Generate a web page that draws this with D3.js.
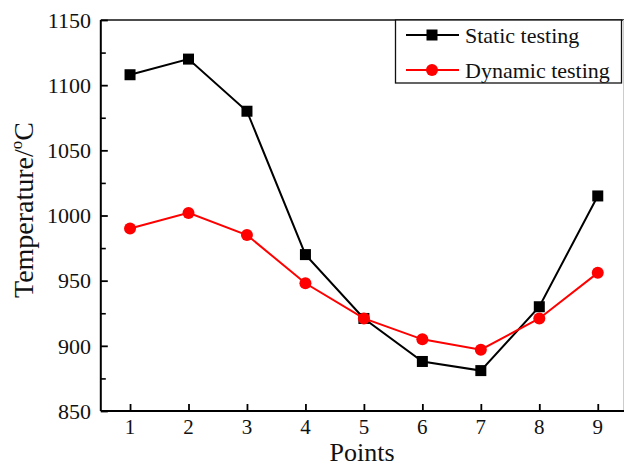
<!DOCTYPE html>
<html>
<head>
<meta charset="utf-8">
<script src="https://cdn.jsdelivr.net/npm/d3@7"></script>
<style>
  body { margin: 0; background: #fff; }
</style>
</head>
<body>
<svg id="chart" width="624" height="467"></svg>
<script>
const points = [1, 2, 3, 4, 5, 6, 7, 8, 9]
const staticTesting = [1108, 1120, 1080, 970, 921, 888, 881, 930, 1015]
const dynamicTesting = [990, 1002, 985, 948, 921, 905, 897, 921, 956]
const yTicks = [850, 900, 950, 1000, 1050, 1100, 1150]
const yMinorTicks = [875, 925, 975, 1025, 1075, 1125]
const seriesNames = ["Static testing", "Dynamic testing"]

const FONT = "'Liberation Serif', 'Times New Roman', serif"

const svg = d3.select("#chart")
  .attr("font-family", FONT)

const x = d3.scaleLinear().domain([0.5, 9.5]).range([100.8, 627])
const y = d3.scaleLinear().domain([850, 1150]).range([411, 20])

// frame
svg.append("line")
  .attr("x1", x(0.5)).attr("x2", 624).attr("y1", y(1150)).attr("y2", y(1150))
  .attr("stroke", "#111").attr("stroke-width", 1.6)
svg.append("line")
  .attr("x1", 623.5).attr("x2", 623.5).attr("y1", y(1150)).attr("y2", y(850))
  .attr("stroke", "#ccc").attr("stroke-width", 1)

// y axis, ticks inward
const yAxis = svg.append("g")
  .attr("transform", `translate(${x(0.5)},0)`)
  .call(d3.axisRight(y).tickValues(yTicks).tickSize(7).tickFormat(""))
yAxis.select(".domain").attr("stroke-width", 2).attr("d", `M0,${y(850)}V${y(1150)}`)
yAxis.selectAll(".tick line").attr("stroke-width", 1.8)

svg.append("g")
  .attr("transform", `translate(${x(0.5)},0)`)
  .call(d3.axisRight(y).tickValues(yMinorTicks).tickSize(5).tickFormat(""))
  .call(g => g.select(".domain").remove())
  .selectAll(".tick line").attr("stroke-width", 1.6)

svg.append("g").selectAll("text")
  .data(yTicks)
  .join("text")
  .attr("font-family", FONT)
  .attr("fill", "#111")
  .attr("x", 91)
  .attr("y", d => y(d))
  .attr("dy", "0.35em")
  .attr("text-anchor", "end")
  .attr("font-size", 22)
  .text(d => d)

// x axis, ticks inward
const xAxis = svg.append("g")
  .attr("transform", `translate(0,${y(850)})`)
  .call(d3.axisTop(x).tickValues(points).tickSize(7).tickFormat(""))
xAxis.select(".domain").attr("stroke-width", 2).attr("d", `M${x(0.5)},0H624`)
xAxis.selectAll(".tick line").attr("stroke-width", 1.8)

svg.append("g").selectAll("text")
  .data(points)
  .join("text")
  .attr("font-family", FONT)
  .attr("fill", "#111")
  .attr("x", d => x(d))
  .attr("y", 434)
  .attr("text-anchor", "middle")
  .attr("font-size", 21)
  .text(d => d)

// axis titles
svg.append("text")
  .attr("font-family", FONT)
  .attr("fill", "#111")
  .attr("x", 362)
  .attr("y", 461)
  .attr("text-anchor", "middle")
  .attr("font-size", 26)
  .text("Points")

const yTitle = svg.append("text")
  .attr("font-family", FONT)
  .attr("fill", "#111")
  .attr("transform", "translate(33,210) rotate(-90)")
  .attr("text-anchor", "middle")
  .attr("font-size", 28)
yTitle.append("tspan").text("Temperature/")
yTitle.append("tspan").attr("font-size", 17).attr("dy", -11).text("o")
yTitle.append("tspan").attr("dy", 11).text("C")

// series
const line = d3.line().x((d, i) => x(points[i])).y(d => y(d))

svg.append("path")
  .datum(staticTesting)
  .attr("d", line)
  .attr("fill", "none")
  .attr("stroke", "#000")
  .attr("stroke-width", 2)

svg.append("g").selectAll("rect")
  .data(staticTesting)
  .join("rect")
  .attr("x", (d, i) => x(points[i]) - 5.5)
  .attr("y", d => y(d) - 5.5)
  .attr("width", 11)
  .attr("height", 11)
  .attr("fill", "#000")

svg.append("path")
  .datum(dynamicTesting)
  .attr("d", line)
  .attr("fill", "none")
  .attr("stroke", "#f00")
  .attr("stroke-width", 2)

svg.append("g").selectAll("circle")
  .data(dynamicTesting)
  .join("circle")
  .attr("cx", (d, i) => x(points[i]))
  .attr("cy", d => y(d))
  .attr("r", 6)
  .attr("fill", "#f00")

// legend
const legend = svg.append("g")
legend.append("rect")
  .attr("x", 395.5).attr("y", 20).attr("width", 226).attr("height", 63)
  .attr("fill", "#fff").attr("stroke", "#111").attr("stroke-width", 1.3)

const legendY = [35, 70]
legend.selectAll("line")
  .data(seriesNames)
  .join("line")
  .attr("x1", 406).attr("x2", 459)
  .attr("y1", (d, i) => legendY[i]).attr("y2", (d, i) => legendY[i])
  .attr("stroke", (d, i) => i === 0 ? "#000" : "#f00")
  .attr("stroke-width", 2)

legend.append("rect")
  .attr("x", 432 - 5.5).attr("y", legendY[0] - 5.5)
  .attr("width", 11).attr("height", 11).attr("fill", "#000")
legend.append("circle")
  .attr("cx", 432).attr("cy", legendY[1]).attr("r", 6).attr("fill", "#f00")

legend.selectAll("text")
  .data(seriesNames)
  .join("text")
  .attr("font-family", FONT)
  .attr("fill", "#111")
  .attr("x", 465)
  .attr("y", (d, i) => legendY[i] + 8)
  .attr("font-size", 22)
  .text(d => d)
</script>
</body>
</html>
